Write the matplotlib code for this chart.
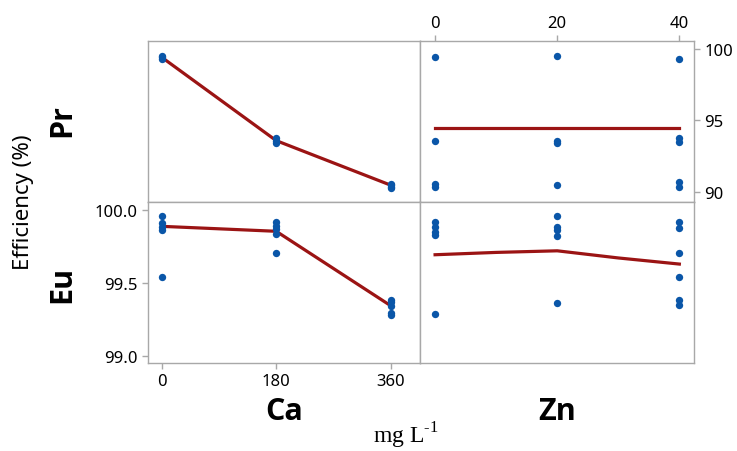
import numpy as np
import matplotlib
matplotlib.use("Agg")
import matplotlib.pyplot as plt

# factor levels (mg/L)
ca_levels = [0, 180, 360]
zn_levels = [0, 20, 40]

# Pr efficiency (%) - individual runs
pr_ca_x = [0, 0, 0, 180, 180, 180, 360, 360, 360, 360]
pr_ca_y = [99.3, 99.4, 99.5, 93.4, 93.6, 93.8, 90.3, 90.4, 90.5, 90.6]
pr_zn_x = [0, 0, 0, 0, 20, 20, 20, 20, 40, 40, 40, 40, 40]
pr_zn_y = [99.4, 93.6, 90.6, 90.4, 99.5, 93.4, 93.6, 90.5, 99.3, 93.5, 93.8, 90.4, 90.7]

# Eu efficiency (%) - individual runs
eu_ca_x = [0, 0, 0, 0, 0, 180, 180, 180, 180, 180, 360, 360, 360, 360, 360]
eu_ca_y = [99.957, 99.909, 99.881, 99.863, 99.538,
           99.916, 99.89, 99.87, 99.835, 99.705,
           99.38, 99.367, 99.343, 99.29, 99.28]
eu_zn_x = [0, 0, 0, 0, 0, 20, 20, 20, 20, 20, 40, 40, 40, 40, 40, 40]
eu_zn_y = [99.916, 99.881, 99.847, 99.828, 99.285,
           99.957, 99.881, 99.865, 99.824, 99.362,
           99.916, 99.874, 99.705, 99.542, 99.382, 99.348]

# fitted lines
pr_ca_fit = [99.4, 93.6, 90.5]
pr_zn_fit = [94.5, 94.5, 94.5]
eu_ca_fit = [99.888, 99.854, 99.343]
eu_zn_fit_x = [0, 10, 20, 30, 40]
eu_zn_fit = [99.693, 99.709, 99.72, 99.671, 99.629]

W, H = 737, 452
plt.rcParams['font.family'] = ['Noto Sans', 'DejaVu Sans']
fig = plt.figure(figsize=(W / 100, H / 100), dpi=100)

def box(x0, y0, x1, y1):
    return fig.add_axes([x0 / W, 1 - y1 / H, (x1 - x0) / W, (y1 - y0) / H])

ax_tl = box(148, 42, 420, 203)
ax_tr = box(420, 42, 694, 203)
ax_bl = box(148, 203, 420, 364)
ax_br = box(420, 203, 694, 364)

dot = '#0a56a8'
red = '#9b1414'
gray = '#a8a8a8'

for ax in (ax_tl, ax_tr, ax_bl, ax_br):
    for s in ax.spines.values():
        s.set_color(gray)
        s.set_linewidth(1)
    ax.tick_params(color=gray, length=4, width=1, labelsize=12, direction='out')
    ax.set_xticks([])
    ax.set_yticks([])

ax_tl.plot(ca_levels, pr_ca_fit, color=red, lw=2.3, zorder=2)
ax_tl.scatter(pr_ca_x, pr_ca_y, s=28, color=dot, zorder=3, linewidths=0)
ax_tr.plot(zn_levels, pr_zn_fit, color=red, lw=2.3, zorder=2)
ax_tr.scatter(pr_zn_x, pr_zn_y, s=28, color=dot, zorder=3, linewidths=0)
ax_bl.plot(ca_levels, eu_ca_fit, color=red, lw=2.3, zorder=2)
ax_bl.scatter(eu_ca_x, eu_ca_y, s=28, color=dot, zorder=3, linewidths=0)
ax_br.plot(eu_zn_fit_x, eu_zn_fit, color=red, lw=2.3, zorder=2)
ax_br.scatter(eu_zn_x, eu_zn_y, s=28, color=dot, zorder=3, linewidths=0)

for ax in (ax_tl, ax_bl):
    ax.set_xlim(-21.5, 406)
for ax in (ax_tr, ax_br):
    ax.set_xlim(-2.47, 42.4)
for ax in (ax_tl, ax_tr):
    ax.set_ylim(89.33, 100.53)
for ax in (ax_bl, ax_br):
    ax.set_ylim(98.95, 100.055)

ax_bl.set_xticks(ca_levels)
ax_bl.set_yticks([99.0, 99.5, 100.0])
ax_bl.set_yticklabels(['99.0', '99.5', '100.0'])

ax_tr.set_xticks(zn_levels)
ax_tr.xaxis.tick_top()
ax_tr.set_yticks([90, 95, 100])
ax_tr.yaxis.tick_right()

bold = ['Open Sans', 'DejaVu Sans']
fig.text(23 / W, 1 - 202 / H, 'Efficiency (%)', rotation=90, ha='center', va='center', fontsize=16)
fig.text(62 / W, 1 - 121 / H, 'Pr', rotation=90, ha='center', va='center', fontsize=22,
         fontweight='bold', family=bold)
fig.text(62 / W, 1 - 284 / H, 'Eu', rotation=90, ha='center', va='center', fontsize=22,
         fontweight='bold', family=bold)
fig.text(284 / W, 1 - 412 / H, 'Ca', ha='center', va='center', fontsize=22,
         fontweight='bold', family=bold)
fig.text(557 / W, 1 - 412 / H, 'Zn', ha='center', va='center', fontsize=22,
         fontweight='bold', family=bold)
fig.text(406 / W, 1 - 436 / H, 'mg L$^{\\mathregular{\u2010}\\mathregular{1}}$', ha='center', va='center',
         fontsize=17, family='Liberation Serif')

fig.savefig('out.png', dpi=100)
